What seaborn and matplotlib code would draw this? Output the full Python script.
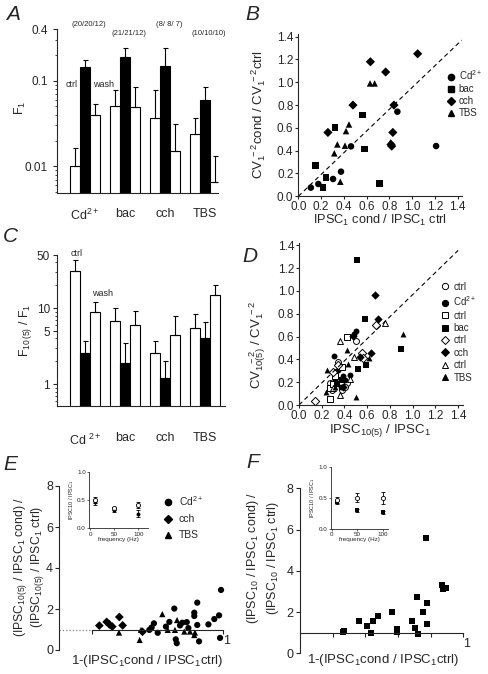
import numpy as np
import pandas as pd
import matplotlib
matplotlib.use("Agg")
import matplotlib.pyplot as plt
from matplotlib.lines import Line2D
import seaborn as sns

W, H = 488, 674

groups = ["Cd", "bac", "cch", "TBS"]
conds = ["ctrl", "cond", "wash"]
n_labels = ["(20/20/12)", "(21/21/12)", "(8/ 8/ 7)", "(10/10/10)"]

# A: F1 (mean, upper SE)
f1_ctrl = [0.010, 0.050, 0.037, 0.0237]
f1_cond = [0.143, 0.189, 0.147, 0.059]
f1_wash = [0.040, 0.049, 0.015, 0.0065]
f1_ctrl_err = [0.0065, 0.027, 0.040, 0.0133]
f1_cond_err = [0.030, 0.048, 0.093, 0.026]
f1_wash_err = [0.014, 0.036, 0.016, 0.0069]

# C: F10(5)/F1
fr_ctrl = [30.7, 6.77, 2.56, 5.43]
fr_cond = [2.59, 1.92, 1.22, 4.10]
fr_wash = [8.87, 6.00, 4.44, 14.8]
fr_ctrl_err = [12.0, 3.4, 1.19, 2.9]
fr_cond_err = [1.08, 1.58, 0.78, 2.4]
fr_wash_err = [3.3, 3.05, 3.5, 5.1]

# B: CV-2 ratio vs IPSC1 ratio
b_cd_x = [0.11, 0.176, 0.305, 0.375, 0.463, 0.87, 1.21]
b_cd_y = [0.076, 0.108, 0.152, 0.216, 0.438, 0.742, 0.441]
b_bac_x = [0.149, 0.217, 0.243, 0.322, 0.565, 0.583, 0.712]
b_bac_y = [0.27, 0.079, 0.163, 0.604, 0.712, 0.415, 0.111]
b_cch_x = [0.26, 0.48, 0.633, 0.767, 1.048, 0.84, 0.83, 0.814, 0.82]
b_cch_y = [0.56, 0.80, 1.18, 1.09, 1.25, 0.80, 0.56, 0.455, 0.44]
b_tbs_x = [0.316, 0.343, 0.419, 0.445, 0.41, 0.369, 0.63, 0.67, 0.81]
b_tbs_y = [0.377, 0.455, 0.572, 0.63, 0.444, 0.128, 0.99, 0.99, 0.473]
b_line = ([0, 1.435], [0, 1.37])

# D: CV-2 ratio vs IPSC10(5)/IPSC1, ctrl (open) and condition (filled)
d_cd_ctrl_x = [0.50, 0.346, 0.27, 0.317, 0.42, 0.375, 0.29, 0.405]
d_cd_ctrl_y = [0.56, 0.38, 0.196, 0.29, 0.19, 0.13, 0.13, 0.16]
d_cd_x = [0.305, 0.487, 0.50, 0.39, 0.405, 0.32, 0.37, 0.346, 0.45]
d_cd_y = [0.43, 0.626, 0.649, 0.25, 0.22, 0.22, 0.16, 0.307, 0.26]
d_bac_ctrl_x = [0.425, 0.27, 0.27, 0.32, 0.375, 0.30]
d_bac_ctrl_y = [0.594, 0.146, 0.05, 0.25, 0.336, 0.184]
d_bac_x = [0.513, 0.578, 0.587, 0.522, 0.90, 0.38, 0.33]
d_bac_y = [1.272, 0.754, 0.348, 0.319, 0.494, 0.22, 0.18]
d_cch_ctrl_x = [0.14, 0.677, 0.551, 0.346, 0.566, 0.30]
d_cch_ctrl_y = [0.032, 0.705, 0.459, 0.35, 0.41, 0.29]
d_cch_x = [0.672, 0.692, 0.636, 0.478, 0.537, 0.39]
d_cch_y = [0.965, 0.757, 0.456, 0.608, 0.418, 0.16]
d_tbs_ctrl_x = [0.36, 0.754, 0.487, 0.36, 0.30, 0.449]
d_tbs_ctrl_y = [0.558, 0.722, 0.424, 0.088, 0.146, 0.225]
d_tbs_x = [0.912, 0.499, 0.42, 0.243, 0.235, 0.616, 0.434, 0.317]
d_tbs_y = [0.626, 0.073, 0.482, 0.307, 0.117, 0.41, 0.36, 0.16]
d_line = ([0, 1.40], [0, 1.355])

# E: normalised paired-pulse change vs block
e_cd_x = [0.549, 0.563, 0.577, 0.60, 0.65, 0.671, 0.701, 0.736, 0.75, 0.777,
          0.787, 0.823, 0.823, 0.841, 0.841, 0.909, 0.945, 0.974, 0.986,
          0.71, 0.716, 0.852, 0.98]
e_cd_y = [0.98, 1.10, 1.30, 0.84, 1.14, 1.37, 2.02, 1.20, 1.33, 1.36,
          1.07, 1.82, 1.66, 2.31, 1.22, 1.25, 1.51, 1.69, 2.93,
          0.52, 0.33, 0.42, 0.59]
e_cch_x = [0.244, 0.289, 0.305, 0.323, 0.366, 0.386, 0.507]
e_cch_y = [1.19, 1.37, 1.25, 1.14, 1.61, 1.20, 0.89]
e_tbs_x = [0.364, 0.498, 0.49, 0.628, 0.661, 0.705, 0.718, 0.762, 0.797, 0.827, 0.823]
e_tbs_y = [0.85, 0.98, 0.49, 1.75, 0.98, 0.98, 1.46, 0.90, 0.90, 0.85, 0.73]

# F: bac
f_x = [0.261, 0.271, 0.363, 0.408, 0.435, 0.449, 0.48, 0.561, 0.592, 0.592,
       0.684, 0.706, 0.718, 0.72, 0.755, 0.776, 0.776, 0.868, 0.878, 0.894, 0.77]
f_y = [1.03, 1.10, 1.55, 1.32, 0.97, 1.55, 1.79, 2.00, 1.19, 1.05,
       1.55, 1.21, 2.71, 0.92, 2.00, 2.43, 1.43, 3.30, 3.14, 3.19, 5.59]

# insets: IPSC10/IPSC1 vs frequency
freq = [10, 50, 100]
ie_ctrl = [0.50, 0.35, 0.41]
ie_ctrl_err = [0.06, 0.03, 0.05]
ie_cond = [0.46, 0.32, 0.26]
ie_cond_err = [0.04, 0.03, 0.06]
if_ctrl = [0.47, 0.51, 0.50]
if_ctrl_err = [0.05, 0.08, 0.10]
if_cond = [0.43, 0.30, 0.27]
if_cond_err = [0.03, 0.02, 0.02]

sns.set_style("ticks")
plt.rcParams["font.family"] = ["Liberation Sans", "DejaVu Sans"]
plt.rcParams["mathtext.fontset"] = "custom"
plt.rcParams["mathtext.rm"] = "Liberation Sans"
plt.rcParams["mathtext.it"] = "Liberation Sans:italic"
plt.rcParams["mathtext.bf"] = "Liberation Sans:bold"
plt.rcParams["axes.linewidth"] = 0.8
plt.rcParams["xtick.major.width"] = 0.8
plt.rcParams["ytick.major.width"] = 0.8
plt.rcParams["xtick.major.size"] = 3
plt.rcParams["ytick.major.size"] = 3

fig = plt.figure(figsize=(W / 100, H / 100), dpi=100)


def px_axes(l, t, r, b):
    return fig.add_axes([l / W, 1 - b / H, (r - l) / W, (b - t) / H])


def ptext(x, y, s, **kw):
    kw.setdefault("ha", "center")
    kw.setdefault("va", "center")
    fig.text(x / W, 1 - y / H, s, **kw)


def letter(x, y, s):
    ptext(x, y, s, fontsize=15, style="italic")


def bar_panel(ax, m, e):
    df = pd.DataFrame({
        "group": np.tile(groups, 3),
        "cond": np.repeat(conds, 4),
        "value": np.concatenate(m),
    })
    sns.barplot(data=df, x="group", y="value", hue="cond", order=groups,
                hue_order=conds, palette={"ctrl": "white", "cond": "black", "wash": "white"},
                edgecolor="black", linewidth=0.8, width=0.75, errorbar=None,
                legend=False, ax=ax)
    for j in range(3):
        x = np.arange(4) + (j - 1) * 0.25
        ax.errorbar(x, m[j], yerr=[np.zeros(4), e[j]], fmt="none", ecolor="black",
                    elinewidth=0.8, capsize=1.8, capthick=0.8, zorder=1)
    ax.set_yscale("log")
    ax.set_xlabel("")
    ax.set_ylabel("")
    ax.tick_params(axis="x", length=0)
    ax.tick_params(axis="y", labelsize=8.5)
    ax.tick_params(which="minor", length=1.8, width=0.6)
    sns.despine(ax=ax)


# ---- A
axA = px_axes(57, 29, 218, 193)
bar_panel(axA, [f1_ctrl, f1_cond, f1_wash], [f1_ctrl_err, f1_cond_err, f1_wash_err])
axA.set_ylim(0.0049, 0.4)
axA.set_xlim(-0.7, 3.32)
axA.set_yticks([0.01, 0.1, 0.4])
axA.set_yticklabels(["0.01", "0.1", "0.4"])
axA.set_xticks(range(4))
axA.set_xticklabels([r"Cd$^{2+}$", "bac", "cch", "TBS"], fontsize=9)
axA.tick_params(axis="x", pad=11)
for i, lab in enumerate(n_labels):
    axA.annotate(lab, (i + 0.1, 1.03 if i % 2 == 0 else 0.97), xycoords=("data", "axes fraction"),
                 ha="center", va="center", fontsize=5.5, annotation_clip=False)
axA.text(-0.33, 0.09, "ctrl", fontsize=6.5, ha="center", va="center")
axA.text(0.45, 0.09, "wash", fontsize=6.5, ha="center", va="center")
ptext(20, 108, r"F$_1$", fontsize=9, rotation=90)
letter(13, 14, "A")

# ---- C
axC = px_axes(57, 255, 225, 406)
bar_panel(axC, [fr_ctrl, fr_cond, fr_wash], [fr_ctrl_err, fr_cond_err, fr_wash_err])
axC.set_ylim(0.516, 50)
axC.set_xlim(-0.7, 3.5)
axC.set_yticks([1, 5, 10, 50])
axC.set_yticklabels(["1", "5", "10", "50"])
axC.set_xticks(range(4))
axC.set_xticklabels([r"Cd $^{2+}$", "bac", "cch", "TBS"], fontsize=9)
axC.tick_params(axis="x", pad=19)
axC.tick_params(axis="y", pad=2)
axC.text(-0.2, 52, "ctrl", fontsize=6.5, ha="center", va="center")
axC.text(0.43, 15.8, "wash", fontsize=6.5, ha="center", va="center")
ptext(25, 330, r"F$_{10\,(5)}$ / F$_1$", fontsize=8.8, rotation=90)
letter(10, 236, "C")


def scatter_axes(ax):
    ax.set_xlim(0, 1.44)
    ax.set_ylim(0, 1.42)
    ticks = np.round(np.arange(0, 1.41, 0.2), 1)
    ax.set_xticks(ticks)
    ax.set_yticks(ticks)
    ax.set_xticklabels([f"{t:.1f}" for t in ticks])
    ax.set_yticklabels([f"{t:.1f}" for t in ticks])
    ax.tick_params(labelsize=8.5, pad=1, length=2.5)
    sns.despine(ax=ax)


# ---- B
axB = px_axes(298.3, 34.4, 462.3, 196.3)
df_b = pd.DataFrame({
    "x": b_cd_x + b_bac_x + b_cch_x + b_tbs_x,
    "y": b_cd_y + b_bac_y + b_cch_y + b_tbs_y,
    "cond": ["Cd"] * len(b_cd_x) + ["bac"] * len(b_bac_x) + ["cch"] * len(b_cch_x) + ["TBS"] * len(b_tbs_x),
})
b_markers = {"Cd": "o", "bac": "s", "cch": "D", "TBS": "^"}
sns.scatterplot(data=df_b, x="x", y="y", style="cond", markers=b_markers, color="black",
                s=22, linewidth=0, legend=False, ax=axB, clip_on=False)
axB.plot(*b_line, ls=(0, (4, 3)), color="black", lw=0.8)
scatter_axes(axB)
axB.set_xlabel("")
axB.set_ylabel("")
hb = [Line2D([], [], ls="", marker=b_markers[g], color="black", markersize=4.5) for g in groups]
axB.legend(hb, [r"Cd$^{2+}$", "bac", "cch", "TBS"], loc="upper left", bbox_to_anchor=(0.9, 0.79),
           frameon=False, fontsize=7, handlelength=1, handletextpad=0.3, labelspacing=0.2,
           borderaxespad=0, borderpad=0)
ptext(259, 115, r"CV$_1^{\ -2}$cond / CV$_1^{\ -2}$ctrl", fontsize=9.5, rotation=90)
ptext(380, 220, r"IPSC$_1$ cond / IPSC$_1$ ctrl", fontsize=9.2)
letter(252, 14, "B")

# ---- D
axD = px_axes(299, 243, 462.7, 405)
d_sets = [
    (d_cd_ctrl_x, d_cd_ctrl_y, "o", True), (d_cd_x, d_cd_y, "o", False),
    (d_bac_ctrl_x, d_bac_ctrl_y, "s", True), (d_bac_x, d_bac_y, "s", False),
    (d_cch_ctrl_x, d_cch_ctrl_y, "D", True), (d_cch_x, d_cch_y, "D", False),
    (d_tbs_ctrl_x, d_tbs_ctrl_y, "^", True), (d_tbs_x, d_tbs_y, "^", False),
]
for xs, ys, mk, is_open in d_sets:
    sns.scatterplot(x=xs, y=ys, marker=mk, s=18, ax=axD, clip_on=False,
                    color="white" if is_open else "black", edgecolor="black",
                    linewidth=0.7 if is_open else 0)
axD.plot(*d_line, ls=(0, (4, 3)), color="black", lw=0.8)
scatter_axes(axD)
hd = [Line2D([], [], ls="", marker=mk, markerfacecolor="white" if o else "black",
             markeredgecolor="black", markeredgewidth=0.7, markersize=4.5)
      for _, _, mk, o in d_sets]
axD.legend(hd, ["ctrl", r"Cd$^{2+}$", "ctrl", "bac", "ctrl", "cch", "ctrl", "TBS"],
           loc="upper left", bbox_to_anchor=(0.86, 0.76), frameon=False, fontsize=7,
           handlelength=1, handletextpad=0.4, labelspacing=0.25, borderaxespad=0, borderpad=0)
ptext(258, 345, r"CV$_{10(5)}^{\ \ -2}$ / CV$_1^{\ -2}$", fontsize=9.5, rotation=90)
ptext(380, 430, r"IPSC$_{10(5)}$ / IPSC$_1$", fontsize=9.5)
letter(250, 257, "D")


def pp_axes(ax, ticks_x, dotted_to):
    ax.set_ylim(0, 8)
    ax.set_yticks([0, 2, 4, 6, 8])
    ax.tick_params(axis="y", labelsize=9, pad=1.5)
    sns.despine(ax=ax)
    ax.spines["bottom"].set_position(("data", 1))
    ax.spines["bottom"].set_bounds(dotted_to, 1.0)
    ax.set_xticks(ticks_x)
    ax.set_xticklabels([""] * (len(ticks_x) - 1) + ["1"])
    ax.tick_params(axis="x", labelsize=9, pad=1)
    for lab in ax.get_xticklabels():
        lab.set_horizontalalignment("left")
    if dotted_to > 0:
        ax.plot([0, dotted_to], [1, 1], ls=":", color="gray", lw=0.9)
    ax.set_xlabel("")
    ax.set_ylabel("")


def inset(ax, m1, e1, m2, e2, mk2, xmax):
    ax.errorbar(freq, m1, yerr=e1, fmt="o", mfc="white", mec="black", ecolor="black",
                ms=3, mew=0.6, elinewidth=0.6, capsize=1.5, capthick=0.6)
    sns.scatterplot(x=freq, y=m2, marker=mk2, color="black", s=8, linewidth=0, ax=ax)
    ax.errorbar(freq, m2, yerr=e2, fmt="none", ecolor="black", elinewidth=0.6,
                capsize=1.5, capthick=0.6)
    ax.set_xlim(-2, xmax)
    ax.set_ylim(0, 1.0)
    ax.set_xticks([0, 50, 100])
    ax.set_yticks([0, 0.5, 1.0])
    ax.set_yticklabels(["0.0", "0.5", "1.0"])
    ax.tick_params(labelsize=4.5, length=1.5, width=0.5, pad=1)
    for s in ax.spines.values():
        s.set_linewidth(0.6)
    sns.despine(ax=ax)
    ax.set_xlabel("frequency (Hz)", fontsize=4.5, labelpad=0)
    ax.set_ylabel(r"IPSC10 / IPSC$_1$", fontsize=4, labelpad=1)


# ---- E
axE = px_axes(59.3, 486, 226.6, 650)
df_e = pd.DataFrame({
    "x": e_cd_x + e_cch_x + e_tbs_x,
    "y": e_cd_y + e_cch_y + e_tbs_y,
    "cond": ["Cd"] * len(e_cd_x) + ["cch"] * len(e_cch_x) + ["TBS"] * len(e_tbs_x),
})
sns.scatterplot(data=df_e, x="x", y="y", style="cond", markers={"Cd": "o", "cch": "D", "TBS": "^"},
                color="black", s=20, linewidth=0, legend=False, ax=axE, clip_on=False)
axE.set_xlim(0, 1.02)
pp_axes(axE, [0.2, 1.0], 0.2)
he = [Line2D([], [], ls="", marker=mk, color="black", markersize=4.5) for mk in ["o", "D", "^"]]
axE.legend(he, [r"Cd$^{2+}$", "cch", "TBS"], loc="upper left", bbox_to_anchor=(0.62, 0.95),
           frameon=False, fontsize=7.5, handlelength=1, handletextpad=0.5, labelspacing=0.6,
           borderaxespad=0, borderpad=0)
ptext(29, 567, "(IPSC$_{10(5)}$ / IPSC$_1$ cond) /\n(IPSC$_{10(5)}$ / IPSC$_1$ ctrl)",
      fontsize=8.8, rotation=90, linespacing=1.0)
ptext(147, 661, r"1-(IPSC$_1$cond / IPSC$_1$ctrl)", fontsize=9.5)
letter(10, 465, "E")
axEi = px_axes(89.3, 471.7, 148.3, 528.3)
inset(axEi, ie_ctrl, ie_ctrl_err, ie_cond, ie_cond_err, "o", 121)

# ---- F
axF = px_axes(300, 488.3, 465, 653.3)
sns.scatterplot(x=f_x, y=f_y, marker="s", color="black", s=20, linewidth=0, ax=axF, clip_on=False)
axF.set_xlim(0, 1.01)
pp_axes(axF, [0.2, 0.4, 0.6, 0.8, 1.0], 0.0)
ptext(263, 558, "(IPSC$_{10}$ / IPSC$_1$ cond) /\n(IPSC$_{10}$ / IPSC$_1$ ctrl)",
      fontsize=9, rotation=90, linespacing=1.45)
ptext(383, 660, r"1-(IPSC$_1$cond / IPSC$_1$ctrl)", fontsize=9.5)
letter(253, 462, "F")
axFi = px_axes(330.7, 467.3, 388.3, 529)
inset(axFi, if_ctrl, if_ctrl_err, if_cond, if_cond_err, "s", 111)

fig.savefig("out.png", dpi=100)
